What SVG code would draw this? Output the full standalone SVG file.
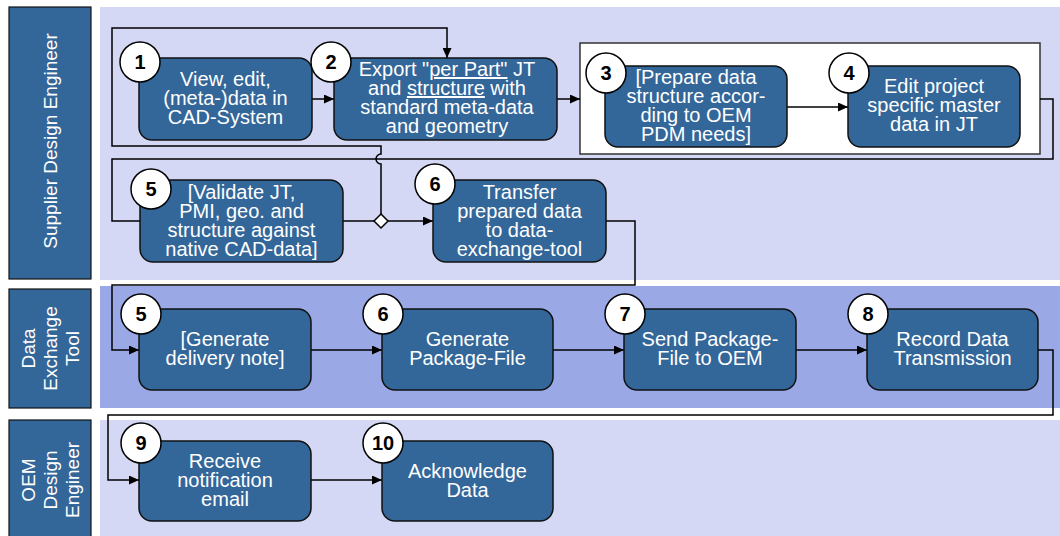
<svg xmlns="http://www.w3.org/2000/svg" width="1060" height="536" viewBox="0 0 1060 536">
<defs>
<marker id="arr" markerUnits="userSpaceOnUse" markerWidth="11" markerHeight="9" refX="10" refY="4.5" orient="auto">
<path d="M0,0 L10,4.5 L0,9 z" fill="#000"/>
</marker>
<style>
.lane-light{fill:#d4d8f5}
.lane-dark{fill:#9aa9e6}
.lbl{fill:#336699;stroke:#111;stroke-width:1.2}
.lbltxt{fill:#fff;font-family:"Liberation Sans",Arial,sans-serif;font-size:19px;text-anchor:middle}
.box{fill:#336699;stroke:#111;stroke-width:1.5}
.txt{fill:#fff;font-family:"Liberation Sans",Arial,sans-serif;font-size:20px;text-anchor:middle}
.num{fill:#fff;stroke:#000;stroke-width:1.5}
.numtxt{fill:#000;font-family:"Liberation Sans",Arial,sans-serif;font-size:20px;font-weight:bold;text-anchor:middle}
.con{fill:none;stroke:#000;stroke-width:1.5}
.u{text-decoration:underline}
</style>
</defs>
<rect width="1060" height="536" fill="#fff"/>
<g id="lanes">
<rect class="lane-light" x="100" y="7" width="960" height="273"/>
<rect class="lane-dark" x="100" y="286" width="960" height="122"/>
<rect class="lane-light" x="100" y="420" width="960" height="116"/>
<rect class="lbl" x="9" y="7" width="82" height="272"/>
<rect class="lbl" x="9" y="289" width="82" height="119"/>
<rect class="lbl" x="9" y="420" width="82" height="118"/>
<text class="lbltxt" transform="translate(0,141) rotate(-90)" x="0" y="57">Supplier Design Engineer</text>
<text class="lbltxt" transform="translate(0,348.5) rotate(-90)"><tspan x="0" y="35">Data</tspan><tspan x="0" y="57">Exchange</tspan><tspan x="0" y="79">Tool</tspan></text>
<text class="lbltxt" transform="translate(0,480) rotate(-90)"><tspan x="0" y="35">OEM</tspan><tspan x="0" y="57">Design</tspan><tspan x="0" y="79">Engineer</tspan></text>
</g>
<g id="group34">
<rect x="580" y="43" width="460" height="111" fill="#fff" stroke="#333" stroke-width="1.5"/>
</g>
<g id="connectors">
<path class="con" d="M312,99 H334" marker-end="url(#arr)"/>
<path class="con" d="M557,99 H580" marker-end="url(#arr)"/>
<path class="con" d="M787,107 H848" marker-end="url(#arr)"/>
<path class="con" d="M1040,99 H1053 V159 H112 V221 H140"/>
<path class="con" d="M381,214 V164 A5,5 0 0 1 381,154 V146 H112 V28 H447 V58" marker-end="url(#arr)"/>
<path class="con" d="M343,221 H374"/>
<path class="con" d="M388,221 H433" marker-end="url(#arr)"/>
<polygon points="381,214 388,221 381,228 374,221" fill="#fff" stroke="#000" stroke-width="1.5"/>
<path class="con" d="M606,221 H635 V285 H112 V350 H139" marker-end="url(#arr)"/>
<path class="con" d="M311,350 H382" marker-end="url(#arr)"/>
<path class="con" d="M553,350 H624" marker-end="url(#arr)"/>
<path class="con" d="M796,350 H867" marker-end="url(#arr)"/>
<path class="con" d="M1038,350 H1053 V415 H108 V480 H139" marker-end="url(#arr)"/>
<path class="con" d="M311,480 H382" marker-end="url(#arr)"/>
</g>
<g id="n1">
<rect class="box" x="139" y="58" width="173" height="82" rx="13"/>
<text class="txt"><tspan x="225.5" y="86">View, edit,</tspan><tspan x="225.5" y="105">(meta-)data in</tspan><tspan x="225.5" y="124">CAD-System</tspan></text>
<circle class="num" cx="140" cy="62" r="20"/><text class="numtxt" x="140" y="69">1</text>
</g>
<g id="n2">
<rect class="box" x="334" y="58" width="223" height="82" rx="13"/>
<text class="txt"><tspan x="447" y="76">Export "<tspan class="u">per Part"</tspan> JT</tspan><tspan x="447" y="95">and <tspan class="u">structure</tspan> with</tspan><tspan x="447" y="114">standard meta-data</tspan><tspan x="447" y="133">and geometry</tspan></text>
<circle class="num" cx="331" cy="62" r="20"/><text class="numtxt" x="331" y="69">2</text>
</g>
<g id="n3">
<rect class="box" x="605" y="66" width="182" height="81" rx="13"/>
<text class="txt"><tspan x="696" y="84">[Prepare data</tspan><tspan x="696" y="103">structure accor-</tspan><tspan x="696" y="122">ding to OEM</tspan><tspan x="696" y="141">PDM needs]</tspan></text>
<circle class="num" cx="606" cy="73" r="20"/><text class="numtxt" x="606" y="80">3</text>
</g>
<g id="n4">
<rect class="box" x="848" y="66" width="172" height="81" rx="13"/>
<text class="txt"><tspan x="934" y="93">Edit project</tspan><tspan x="934" y="112">specific master</tspan><tspan x="934" y="131">data in JT</tspan></text>
<circle class="num" cx="849" cy="73" r="20"/><text class="numtxt" x="849" y="80">4</text>
</g>
<g id="n5">
<rect class="box" x="140" y="180" width="203" height="82" rx="13"/>
<text class="txt"><tspan x="241.5" y="199">[Validate JT,</tspan><tspan x="241.5" y="218">PMI, geo. and</tspan><tspan x="241.5" y="237">structure against</tspan><tspan x="241.5" y="256">native CAD-data]</tspan></text>
<circle class="num" cx="151" cy="189" r="20"/><text class="numtxt" x="151" y="196">5</text>
</g>
<g id="n6">
<rect class="box" x="433" y="180" width="173" height="82" rx="13"/>
<text class="txt"><tspan x="519.5" y="199">Transfer</tspan><tspan x="519.5" y="218">prepared data</tspan><tspan x="519.5" y="237">to data-</tspan><tspan x="519.5" y="256">exchange-tool</tspan></text>
<circle class="num" cx="435" cy="184" r="20"/><text class="numtxt" x="435" y="191">6</text>
</g>
<g id="d5">
<rect class="box" x="139" y="309" width="172" height="81" rx="13"/>
<text class="txt"><tspan x="225" y="346">[Generate</tspan><tspan x="225" y="365">delivery note]</tspan></text>
<circle class="num" cx="141" cy="314" r="20"/><text class="numtxt" x="141" y="321">5</text>
</g>
<g id="d6">
<rect class="box" x="382" y="309" width="171" height="81" rx="13"/>
<text class="txt"><tspan x="467.5" y="346">Generate</tspan><tspan x="467.5" y="365">Package-File</tspan></text>
<circle class="num" cx="383" cy="314" r="20"/><text class="numtxt" x="383" y="321">6</text>
</g>
<g id="d7">
<rect class="box" x="624" y="309" width="172" height="81" rx="13"/>
<text class="txt"><tspan x="710" y="346">Send Package-</tspan><tspan x="710" y="365">File to OEM</tspan></text>
<circle class="num" cx="625" cy="314" r="20"/><text class="numtxt" x="625" y="321">7</text>
</g>
<g id="d8">
<rect class="box" x="867" y="309" width="171" height="81" rx="13"/>
<text class="txt"><tspan x="952.5" y="346">Record Data</tspan><tspan x="952.5" y="365">Transmission</tspan></text>
<circle class="num" cx="868" cy="314" r="20"/><text class="numtxt" x="868" y="321">8</text>
</g>
<g id="o9">
<rect class="box" x="139" y="441" width="172" height="80" rx="13"/>
<text class="txt"><tspan x="225" y="468">Receive</tspan><tspan x="225" y="487">notification</tspan><tspan x="225" y="506">email</tspan></text>
<circle class="num" cx="141" cy="443" r="20"/><text class="numtxt" x="141" y="450">9</text>
</g>
<g id="o10">
<rect class="box" x="382" y="441" width="171" height="80" rx="13"/>
<text class="txt"><tspan x="467.5" y="478">Acknowledge</tspan><tspan x="467.5" y="497">Data</tspan></text>
<circle class="num" cx="383" cy="443" r="20"/><text class="numtxt" x="383" y="450">10</text>
</g>
</svg>
